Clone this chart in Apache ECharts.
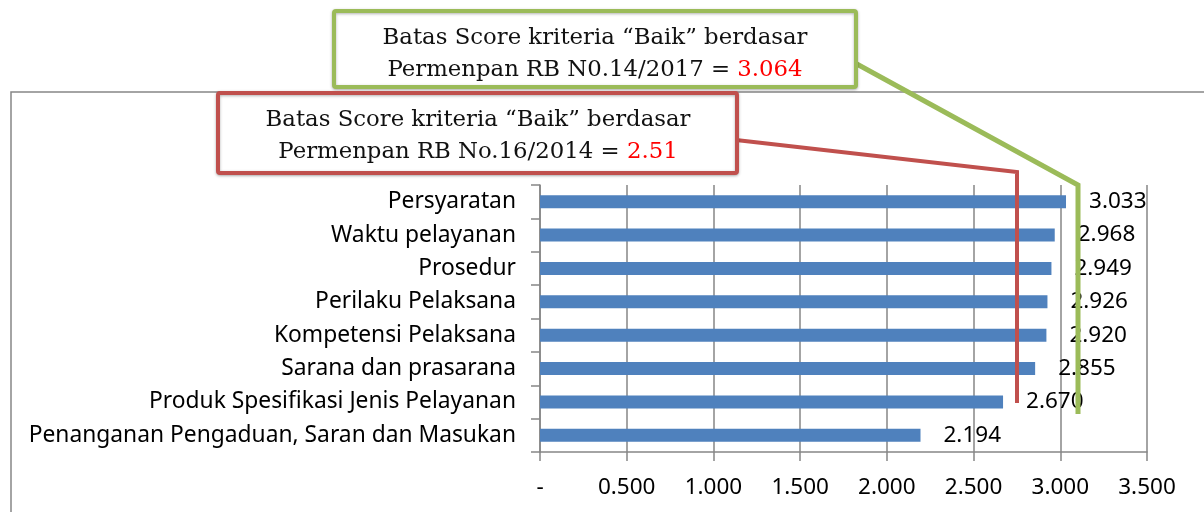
<!DOCTYPE html>
<html>
<head>
<meta charset="utf-8">
<script src="https://cdn.jsdelivr.net/npm/echarts@6/dist/echarts.min.js"></script>
<style>
  html, body { margin: 0; padding: 0; background: #fff; }
  #chart { width: 1204px; height: 512px; }
</style>
</head>
<body>
<div id="chart"></div>
<script>
// data (top to bottom)
const categories = [
  'Persyaratan',
  'Waktu pelayanan',
  'Prosedur',
  'Perilaku Pelaksana',
  'Kompetensi Pelaksana',
  'Sarana dan prasarana',
  'Produk Spesifikasi Jenis Pelayanan',
  'Penanganan Pengaduan, Saran dan Masukan'
];
const scores = [3.033, 2.968, 2.949, 2.926, 2.920, 2.855, 2.670, 2.194];

// x axis: 0 .. 3.5 step 0.5, zero shown as "-"
const xMin = 0, xMax = 3.5, xStep = 0.5;

// callout texts
const greenLines = ['Batas Score kriteria “Baik” berdasar', 'Permenpan RB N0.14/2017 = ', '3.064'];
const redLines = ['Batas Score kriteria “Baik” berdasar', 'Permenpan RB No.16/2014 = ', '2.51'];

const gray = '#868686';
const green = '#9BBB59';
const red = '#C0504D';
const sans = '"Noto Sans", sans-serif';
const serif = '"DejaVu Serif", serif';
const noteFont = '22.8px ' + serif;

const chart = echarts.init(document.getElementById('chart'));

// a boxed two-line note with the score in red
function note(box, cx, lines, color) {
  return [
    {
      type: 'rect', z: 100,
      shape: { x: box[0], y: box[1], width: box[2], height: box[3], r: 2 },
      style: { fill: '#fff', stroke: color, lineWidth: 4, shadowBlur: 3, shadowColor: 'rgba(0,0,0,0.3)', shadowOffsetY: 1 }
    },
    {
      type: 'text', z: 101,
      style: {
        x: cx, y: box[1] + 27, text: lines[0], font: noteFont,
        fill: '#111', textAlign: 'center', verticalAlign: 'middle'
      }
    },
    {
      type: 'text', z: 101,
      style: {
        x: cx, y: box[1] + 59, text: lines[1] + '{r|' + lines[2] + '}', font: noteFont,
        fill: '#111', textAlign: 'center', verticalAlign: 'middle',
        rich: { r: { fill: '#ff0000', font: noteFont } }
      }
    }
  ];
}

const option = {
  animation: false,
  grid: { left: 540, right: 57, top: 185, bottom: 60, containLabel: false },
  xAxis: {
    type: 'value',
    min: xMin, max: xMax, interval: xStep,
    axisLine: { show: true, lineStyle: { color: gray, width: 1.5 } },
    axisTick: { show: true, length: 9, lineStyle: { color: gray, width: 1.5 } },
    splitLine: { show: true, lineStyle: { color: gray, width: 1.5 } },
    axisLabel: {
      color: '#000', fontFamily: sans, fontSize: 22.5, margin: 24,
      formatter: v => v === 0 ? '-' : v.toFixed(3)
    }
  },
  yAxis: {
    type: 'category',
    data: categories,
    inverse: true,
    axisLine: { show: true, lineStyle: { color: gray, width: 1.5 } },
    axisTick: { show: true, length: 9, lineStyle: { color: gray, width: 1.5 } },
    axisLabel: { color: '#000', fontFamily: sans, fontSize: 22.8, margin: 24 }
  },
  series: [{
    type: 'bar',
    data: scores,
    barWidth: 13,
    itemStyle: { color: '#4F81BD' },
    label: {
      show: true, position: 'right', distance: 23,
      color: '#000', fontFamily: sans, fontSize: 22.5,
      formatter: p => p.value.toFixed(3)
    }
  }],
  graphic: [
    // outer chart border
    {
      type: 'rect', z: -1, silent: true,
      shape: { x: 11, y: 92, width: 1300, height: 600 },
      style: { fill: 'none', stroke: gray, lineWidth: 1.5 }
    },
    // green connector
    {
      type: 'polyline', z: 99,
      shape: { points: [[855, 63], [1078, 185], [1078, 414]] },
      style: { stroke: green, lineWidth: 5, fill: 'none' }
    },
    // red connector
    {
      type: 'polyline', z: 99,
      shape: { points: [[736, 140], [1017, 172], [1017, 403]] },
      style: { stroke: red, lineWidth: 4, fill: 'none' }
    }
  ]
    .concat(note([334, 11, 522, 76], 595, greenLines, green))
    .concat(note([218, 93, 519, 80], 478, redLines, red))
};

chart.setOption(option);
</script>
</body>
</html>
